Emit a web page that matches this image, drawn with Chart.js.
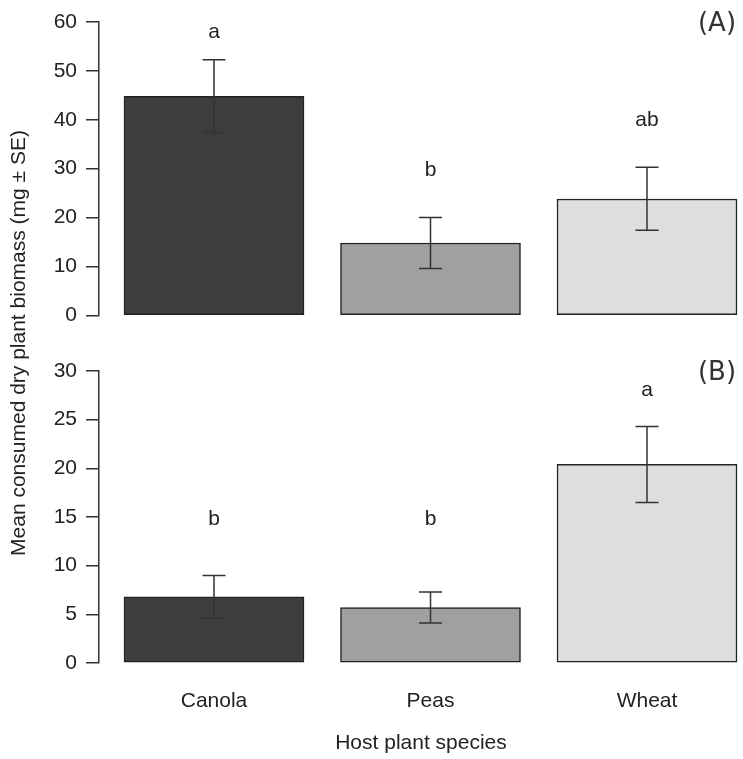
<!DOCTYPE html>
<html>
<head>
<meta charset="utf-8">
<script src="https://cdn.jsdelivr.net/npm/chart.js@4/dist/chart.umd.min.js"></script>
<style>
  html, body { margin: 0; padding: 0; background: #fff; }
  #wrap { position: relative; width: 743px; height: 759px; overflow: hidden; background: #fff; }
  #cA { position: absolute; left: 0; top: 0; }
  #cB { position: absolute; left: 0; top: 340px; }
  #ytitle {
    position: absolute; left: 18px; top: 343px; width: 500px; height: 26px;
    margin-left: -250px; margin-top: -13px; text-align: center;
    transform: rotate(-90deg);
    font: 21px "Liberation Sans", Arial, sans-serif; color: #222; line-height: 26px; white-space: nowrap;
  }
</style>
</head>
<body>
<div id="wrap">
  <canvas id="cA" width="743" height="337"></canvas>
  <canvas id="cB" width="743" height="419"></canvas>
  <div id="ytitle">Mean consumed dry plant biomass (mg ± SE)</div>
</div>
<script>
// ---- data ----
const categories = ["Canola", "Peas", "Wheat"];
const barColors = ["#3d3d3d", "#a0a0a0", "#dedede"];

// Panel A
const meansA = [44.8, 14.8, 23.8];
const lowerA = [37.4, 9.6, 17.4];
const upperA = [52.3, 20.0, 30.3];
const lettersA = ["a", "b", "ab"];
const letterYA = [57.9, 29.6, 39.9];
const ticksA = [0, 10, 20, 30, 40, 50, 60];

// Panel B
const meansB = [6.8, 5.7, 20.4];
const lowerB = [4.6, 4.1, 16.5];
const upperB = [9.0, 7.3, 24.3];
const lettersB = ["b", "b", "a"];
const letterYB = [14.8, 14.8, 28.0];
const ticksB = [0, 5, 10, 15, 20, 25, 30];

const FONT = '"Liberation Sans", Arial, sans-serif';
const TEXT = '#222';

function annotPlugin(lower, upper, letters, letterY, panelLabel, panelY) {
  return {
    id: 'annot' + panelLabel,
    afterDatasetsDraw(chart) {
      const ctx = chart.ctx, xs = chart.scales.x, ys = chart.scales.y;
      ctx.save();
      ctx.strokeStyle = '#333';
      ctx.lineWidth = 1.5;
      for (let i = 0; i < categories.length; i++) {
        const x = xs.getPixelForValue(i + 1);
        const y1 = ys.getPixelForValue(lower[i]);
        const y2 = ys.getPixelForValue(upper[i]);
        ctx.beginPath();
        ctx.moveTo(x, y1); ctx.lineTo(x, y2);
        ctx.moveTo(x - 11.5, y1); ctx.lineTo(x + 11.5, y1);
        ctx.moveTo(x - 11.5, y2); ctx.lineTo(x + 11.5, y2);
        ctx.stroke();
      }
      ctx.fillStyle = TEXT;
      ctx.font = '21px ' + FONT;
      ctx.textAlign = 'center';
      ctx.textBaseline = 'middle';
      for (let i = 0; i < categories.length; i++) {
        ctx.fillText(letters[i], xs.getPixelForValue(i + 1), ys.getPixelForValue(letterY[i]));
      }
      ctx.font = '26px "DejaVu Sans", sans-serif';
      ctx.fillStyle = '#333';
      ctx.fillText(panelLabel, 717, panelY);
      ctx.restore();
    }
  };
}

function makeChart(id, means, ticks, lower, upper, letters, letterY, panelLabel, panelY, showX, padTop, xHeight) {
  const xMin = 1 - (214 - 99) / 216.5;
  const xMax = 3 + (743 - 647) / 216.5;
  return new Chart(document.getElementById(id), {
    type: 'bar',
    data: {
      datasets: [{
        data: means.map((v, i) => ({ x: i + 1, y: v })),
        backgroundColor: barColors,
        borderColor: '#222',
        borderWidth: 1.5,
        borderSkipped: false,
        barThickness: 180
      }]
    },
    options: {
      responsive: false,
      animation: false,
      events: [],
      layout: { padding: { top: padTop, bottom: 0, left: 0, right: 0 } },
      plugins: { legend: { display: false }, tooltip: { enabled: false }, title: { display: false } },
      scales: {
        x: {
          type: 'linear',
          offset: false,
          display: true,
          min: xMin, max: xMax,
          afterBuildTicks: (s) => { s.ticks = categories.map((c, i) => ({ value: i + 1 })); },
          afterFit: (s) => { s.height = xHeight; },
          grid: { display: false, drawTicks: false, offset: false },
          border: { display: false },
          ticks: {
            display: showX,
            padding: 26,
            color: TEXT,
            font: { family: FONT, size: 21 },
            callback: (v) => categories[Math.round(v) - 1] || ''
          },
          title: {
            display: showX,
            text: 'Host plant species',
            color: TEXT,
            font: { family: FONT, size: 21 },
            padding: { top: 0, bottom: 3 }
          }
        },
        y: {
          min: ticks[0], max: ticks[ticks.length - 1],
          afterBuildTicks: (s) => { s.ticks = ticks.map(v => ({ value: v })); },
          afterFit: (s) => { s.width = 99; },
          grid: { display: true, drawOnChartArea: false, drawTicks: true, tickLength: 13, color: '#333', lineWidth: 1.5 },
          border: { display: true, color: '#333', width: 1.5 },
          ticks: { padding: 9, color: TEXT, font: { family: FONT, size: 21 } }
        }
      }
    },
    plugins: [annotPlugin(lower, upper, letters, letterY, panelLabel, panelY)]
  });
}

makeChart('cA', meansA, ticksA, lowerA, upperA, lettersA, letterYA, '(A)', 24, false, 22, 9);
makeChart('cB', meansB, ticksB, lowerB, upperB, lettersB, letterYB, '(B)', 33, true, 31, 96);
</script>
</body>
</html>
